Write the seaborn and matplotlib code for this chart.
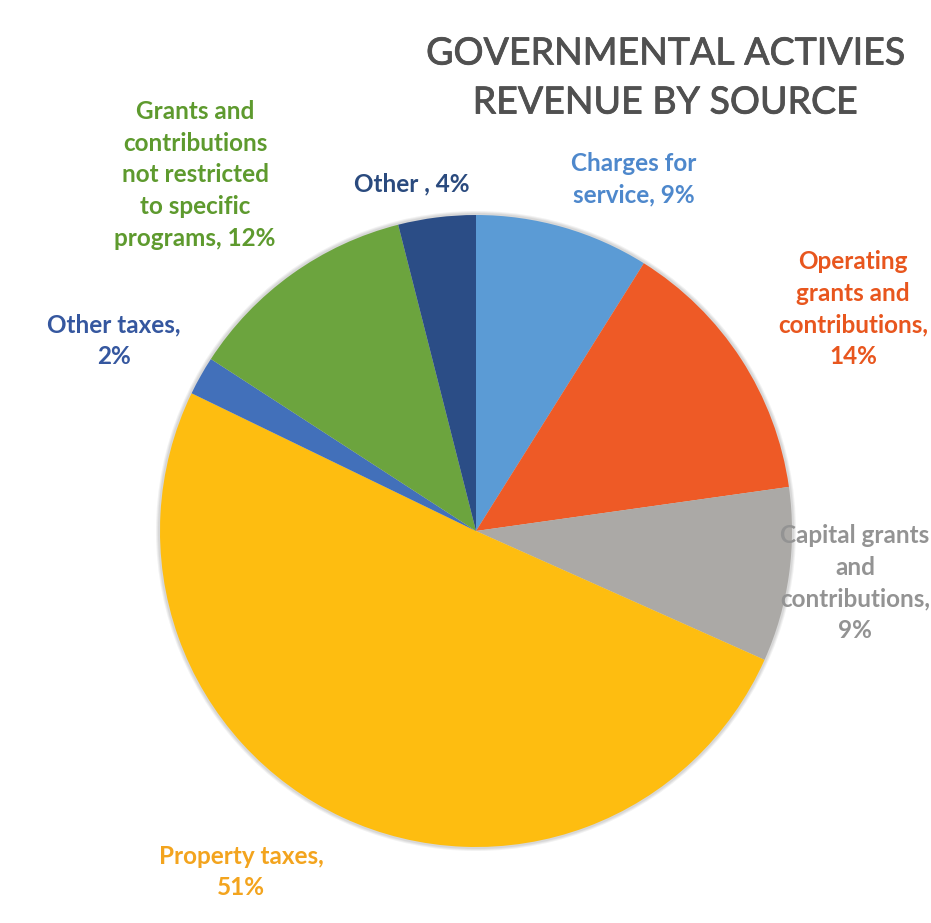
import matplotlib
matplotlib.use("Agg")
import matplotlib.pyplot as plt
import matplotlib.patheffects as pe
import seaborn as sns
from matplotlib.patches import Circle

# ---- data ----
categories = ["Charges for service", "Operating grants and contributions",
              "Capital grants and contributions", "Property taxes", "Other taxes",
              "Grants and contributions not restricted to specific programs", "Other"]
values = [9, 14, 9, 51, 2, 12, 4]
label_texts = ["Charges for\nservice, 9%",
               "Operating\ngrants and\ncontributions,\n14%",
               "Capital grants\nand\ncontributions,\n9%",
               "Property taxes,\n51%",
               "Other taxes,\n2%",
               "Grants and\ncontributions\nnot restricted\nto specific\nprograms, 12%",
               "Other , 4%"]
title_text = "GOVERNMENTAL ACTIVIES\nREVENUE BY SOURCE"

# ---- style ----
sns.set_theme(style="white")
plt.rcParams['font.family'] = ['Lato', 'DejaVu Sans']

slice_colors = sns.color_palette(["#5B9BD5", "#EE5A26", "#ABA9A6", "#FEBD10",
                                  "#4270BA", "#6CA43E", "#2B4D86"])
label_colors = ["#4E88CC", "#E8561E", "#939393", "#F3A41E", "#35579F", "#5E9A2E", "#2A4A7E"]

W, H = 931, 923
fig = plt.figure(figsize=(W / 100, H / 100), dpi=100)
ax = fig.add_axes([0, 0, 1, 1])

cx, cy, r = 476, 531, 316

# soft shadow
for i, a in enumerate([0.05, 0.05, 0.06]):
    ax.add_patch(Circle((cx, H - cy), r + 4 - i, color="#000000", alpha=a, lw=0, zorder=0))

ax.pie(values, colors=slice_colors, startangle=90, counterclock=False,
       center=(cx, H - cy), radius=r, wedgeprops=dict(linewidth=0), frame=False)
ax.set_xlim(0, W)
ax.set_ylim(0, H)
ax.set_aspect('auto')
ax.axis('off')

# label positions (pixel, top-origin)
label_pos = [(634, 179), (853, 309), (855, 583), (241, 872), (114, 341), (195, 175), (412, 184)]
for txt, (x, y), c in zip(label_texts, label_pos, label_colors):
    ax.text(x, H - y, txt, ha="center", va="center", color=c, fontsize=17.5,
            fontweight="bold", linespacing=1.45, zorder=5)

ax.text(665, H - 78, title_text, ha="center", va="center", color="#505050",
        fontsize=27, linespacing=1.45, zorder=5,
        path_effects=[pe.withStroke(linewidth=0.6, foreground="#505050")])

fig.savefig("out.png", dpi=100, facecolor="white")
